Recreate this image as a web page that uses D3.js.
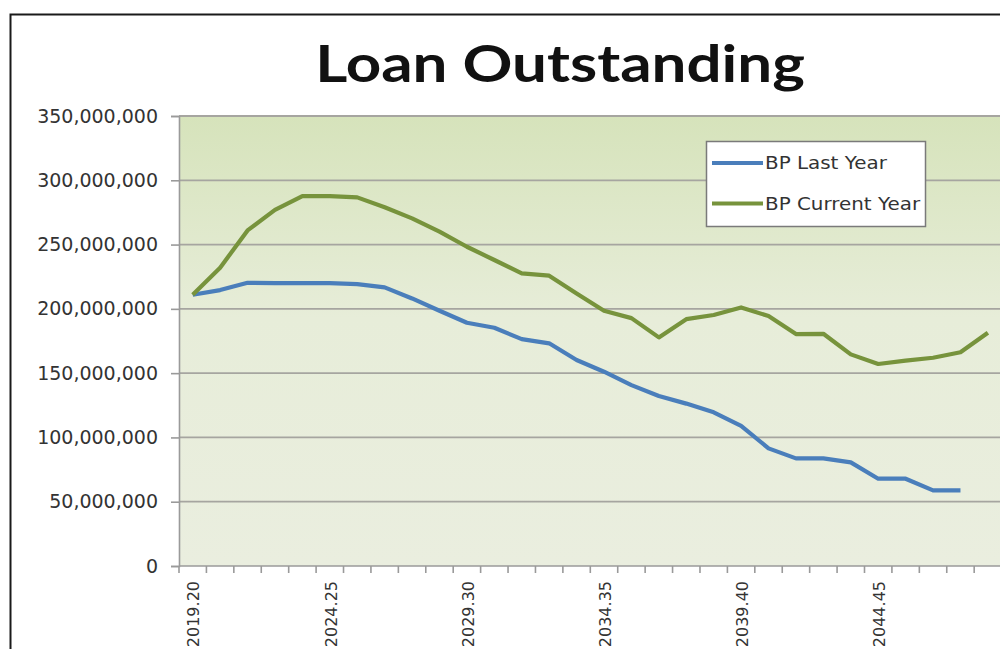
<!DOCTYPE html>
<html>
<head>
<meta charset="utf-8">
<script src="https://cdn.jsdelivr.net/npm/d3@7"></script>
<style>
  body { margin: 0; background: #fff; overflow: hidden; }
</style>
</head>
<body>
<div id="chart"></div>
<script>
// fiscal years on the category axis
const years = [
  "2019.20", "2020.21", "2021.22", "2022.23", "2023.24", "2024.25", "2025.26", "2026.27",
  "2027.28", "2028.29", "2029.30", "2030.31", "2031.32", "2032.33", "2033.34", "2034.35",
  "2035.36", "2036.37", "2037.38", "2038.39", "2039.40", "2040.41", "2041.42", "2042.43",
  "2043.44", "2044.45", "2045.46", "2046.47", "2047.48", "2048.49"
];

// loan outstanding
const lastYear = [
  211.0e6, 214.6e6, 220.3e6, 220.0e6, 220.0e6, 220.0e6, 219.3e6, 216.7e6,
  208.1e6, 198.5e6, 189.2e6, 185.3e6, 176.5e6, 173.2e6, 160.2e6, 151.1e6,
  140.7e6, 132.2e6, 126.3e6, 119.5e6, 108.9e6, 91.5e6, 83.7e6, 83.7e6,
  80.6e6, 67.9e6, 67.9e6, 58.8e6, 58.8e6
];
const currentYear = [
  211.0e6, 232.0e6, 261.0e6, 277.0e6, 287.7e6, 287.7e6, 286.7e6, 279.0e6,
  270.4e6, 260.0e6, 248.3e6, 238.0e6, 227.6e6, 225.8e6, 212.0e6, 198.5e6,
  192.8e6, 177.8e6, 192.0e6, 195.2e6, 201.1e6, 194.4e6, 180.4e6, 180.6e6,
  164.6e6, 157.1e6, 159.7e6, 162.0e6, 166.2e6, 181.4e6
];

const seriesNames = ["BP Last Year", "BP Current Year"];
const yTicks = [0, 50e6, 100e6, 150e6, 200e6, 250e6, 300e6, 350e6];

const width = 1000, height = 649;
const plot = {left: 179, right: 1001.6, top: 116, bottom: 566};
const colors = ["#4a7ebb", "#77933c"];
const font = "DejaVu Sans, Verdana, sans-serif";

const svg = d3.select("#chart")
  .append("svg")
  .attr("width", width)
  .attr("height", height);

const defs = svg.append("defs");
const grad = defs.append("linearGradient")
  .attr("id", "bg")
  .attr("x1", 0).attr("y1", 0).attr("x2", 0).attr("y2", 1);
grad.append("stop").attr("offset", "0%").attr("stop-color", "#d6e3bb");
grad.append("stop").attr("offset", "45%").attr("stop-color", "#e7edd9");
grad.append("stop").attr("offset", "100%").attr("stop-color", "#eaeedf");

// outer chart border (the picture is cropped on the right and bottom)
svg.append("rect")
  .attr("x", 10.5).attr("y", 14.5)
  .attr("width", 1200).attr("height", 1000)
  .attr("fill", "#fff")
  .attr("stroke", "#1a1a1a")
  .attr("stroke-width", 2);

const x = d3.scaleBand()
  .domain(years)
  .range([plot.left, plot.right])
  .padding(0);

const y = d3.scaleLinear()
  .domain([0, 350e6])
  .range([plot.bottom, plot.top]);

svg.append("rect")
  .attr("x", plot.left).attr("y", plot.top)
  .attr("width", plot.right - plot.left)
  .attr("height", plot.bottom - plot.top)
  .attr("fill", "url(#bg)");

// grid lines
svg.append("g")
  .selectAll("line")
  .data(yTicks.filter(d => d > 0))
  .join("line")
    .attr("x1", plot.left).attr("x2", plot.right)
    .attr("y1", d => y(d)).attr("y2", d => y(d))
    .attr("stroke", "#a6a5a0")
    .attr("stroke-width", 1.8);

// y axis
const yAxis = svg.append("g")
  .attr("transform", `translate(${plot.left},0)`)
  .call(d3.axisLeft(y).tickValues(yTicks).tickSize(8).tickPadding(13).tickFormat(d3.format(",")));
yAxis.select(".domain").attr("stroke", "#9a9a9a").attr("stroke-width", 1.6);
yAxis.selectAll(".tick line").attr("stroke", "#9a9a9a").attr("stroke-width", 1.6);
yAxis.selectAll("text")
  .attr("font-family", font)
  .attr("font-size", 19)
  .attr("fill", "#333");

// x axis line and tick marks on category boundaries
const xg = svg.append("g");
xg.append("line")
  .attr("x1", plot.left).attr("x2", plot.right)
  .attr("y1", plot.bottom).attr("y2", plot.bottom)
  .attr("stroke", "#9a9a9a").attr("stroke-width", 1.6);
xg.selectAll("line.tick")
  .data(years)
  .join("line")
    .attr("class", "tick")
    .attr("x1", d => x(d)).attr("x2", d => x(d))
    .attr("y1", plot.bottom).attr("y2", plot.bottom + 7)
    .attr("stroke", "#9a9a9a").attr("stroke-width", 1.6);
xg.selectAll("text")
  .data(years.filter((d, i) => i % 5 == 0))
  .join("text")
    .attr("transform", d => `translate(${x(d) + x.bandwidth() / 2 + 1},581) rotate(-90)`)
    .attr("text-anchor", "end")
    .attr("dy", "0.36em")
    .attr("font-family", font)
    .attr("font-size", 16)
    .attr("fill", "#333")
    .text(d => d);

// lines
const line = d3.line()
  .x((d, i) => x(years[i]) + x.bandwidth() / 2)
  .y(d => y(d));

svg.append("g")
  .selectAll("path")
  .data([lastYear, currentYear])
  .join("path")
    .attr("fill", "none")
    .attr("stroke", (d, i) => colors[i])
    .attr("stroke-width", 4.2)
    .attr("stroke-linejoin", "round")
    .attr("d", line);

// title, stretched a little like the original
svg.append("text")
  .attr("transform", "translate(560,82) scale(1.19,1)")
  .attr("text-anchor", "middle")
  .attr("font-family", "Lato, Open Sans, sans-serif")
  .attr("font-weight", "bold")
  .attr("font-size", 52)
  .attr("fill", "#111")
  .text("Loan Outstanding");

// legend
const legend = svg.append("g").attr("transform", "translate(706,141)");
legend.append("rect")
  .attr("x", 0.5).attr("y", 0.5)
  .attr("width", 219).attr("height", 85)
  .attr("fill", "#fff")
  .attr("stroke", "#7a7a7a")
  .attr("stroke-width", 1.5);
const item = legend.selectAll("g.item")
  .data(seriesNames)
  .join("g")
    .attr("class", "item")
    .attr("transform", (d, i) => `translate(0,${22 + i * 40.5})`);
item.append("line")
  .attr("x1", 6).attr("x2", 57)
  .attr("stroke", (d, i) => colors[i])
  .attr("stroke-width", 4.2);
item.append("text")
  .attr("transform", "translate(59,0) scale(1.17,1)")
  .attr("dy", "0.36em")
  .attr("font-family", font)
  .attr("font-size", 17)
  .attr("fill", "#333")
  .text(d => d);
</script>
</body>
</html>
